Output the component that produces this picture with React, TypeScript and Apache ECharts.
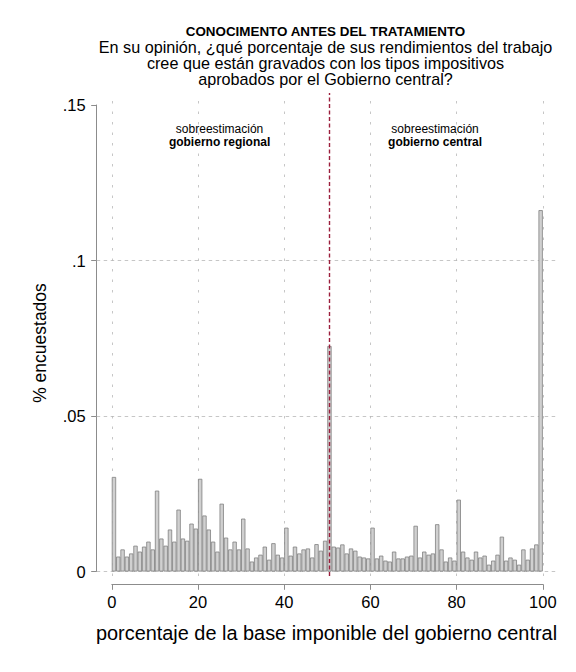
import React, { useEffect, useRef } from "react";
import * as echarts from "echarts";

// Histogram: share of respondents per 1-point bin [i, i+1), i = 0..99
const shares = [
  0.0304, 0.0048, 0.0071, 0.0048, 0.0058, 0.0083, 0.0064, 0.008, 0.0096, 0.0071,
  0.026, 0.0106, 0.0083, 0.0135, 0.0096, 0.0199, 0.0106, 0.0099, 0.0154, 0.0138,
  0.0298, 0.018, 0.0135, 0.0096, 0.0064, 0.0218, 0.0109, 0.0071, 0.0096, 0.0071,
  0.017, 0.0074, 0.0032, 0.0045, 0.0054, 0.008, 0.0038, 0.0091, 0.0054, 0.0045,
  0.0141, 0.0051, 0.008, 0.0058, 0.0071, 0.0074, 0.0045, 0.0088, 0.0067, 0.0099,
  0.0725, 0.008, 0.0077, 0.0087, 0.0058, 0.0074, 0.0067, 0.0048, 0.0045, 0.0042,
  0.0141, 0.0042, 0.0051, 0.0035, 0.0032, 0.0064, 0.0042, 0.0042, 0.0048, 0.0051,
  0.0147, 0.0045, 0.0064, 0.0054, 0.0058, 0.0152, 0.0071, 0.0032, 0.0045, 0.0035,
  0.0231, 0.0064, 0.0045, 0.0038, 0.0064, 0.0045, 0.0051, 0.0022, 0.0035, 0.0054,
  0.0112, 0.0035, 0.0045, 0.0038, 0.0022, 0.0071, 0.0038, 0.0074, 0.0087, 0.1162,
];
const binWidth = 1;
const xTicks = [0, 20, 40, 60, 80, 100];
const yTicks = [0, 0.05, 0.1, 0.15];
const yTickLabels = ["0", ".05", ".1", ".15"];
const hGridValues = [0, 0.05, 0.1];
const refLineX = 50.5;

const titleText = "CONOCIMENTO ANTES DEL TRATAMIENTO";
const subtitleLines = [
  "En su opinión, ¿qué porcentaje de sus rendimientos del trabajo",
  "cree que están gravados con los tipos impositivos",
  "aprobados por el Gobierno central?",
];
const xTitle = "porcentaje de la base imponible del gobierno central";
const yTitle = "% encuestados";
const annotations = [
  { x: 25, y: 0.1423, line1: "sobreestimación", line2: "gobierno regional" },
  { x: 75, y: 0.1423, line1: "sobreestimación", line2: "gobierno central" },
];

// layout (pixels)
const W = 576;
const H = 672;
const DATA_LEFT = 111.8;
const DATA_RIGHT = 542.8;
const DATA_TOP = 105;
const DATA_BOTTOM = 571.5;
const PLOT_LEFT = 96.7;
const PLOT_RIGHT = 558;
const PLOT_TOP = 93;
const PLOT_BOTTOM = 576;
const FONT = "'Liberation Sans', Arial, Helvetica, sans-serif";

export default function App() {
  const ref = useRef<HTMLDivElement>(null);

  useEffect(() => {
    if (!ref.current) return;
    const chart = echarts.init(ref.current, null, { renderer: "svg" });

    const xMinT = xTicks[0];
    const xMaxT = xTicks[xTicks.length - 1];
    const yMinT = yTicks[0];
    const yMaxT = yTicks[yTicks.length - 1];
    const pxX = (DATA_RIGHT - DATA_LEFT) / (xMaxT - xMinT);
    const pxY = (DATA_BOTTOM - DATA_TOP) / (yMaxT - yMinT);
    const toPx = (x: number, y: number) => [
      DATA_LEFT + (x - xMinT) * pxX,
      DATA_BOTTOM - (y - yMinT) * pxY,
    ];

    const gridColor = "#b8b8b8";
    const axisColor = "#8c8c8c";

    const gridLines: any[] = [
      ...xTicks.map((v) => ({
        xAxis: v,
        lineStyle: { color: gridColor, width: 0.8, type: [2.5, 8] },
      })),
      ...hGridValues.map((v) => ({
        yAxis: v,
        lineStyle: { color: gridColor, width: 0.8, type: [3.5, 3.5] },
      })),
    ];

    const graphic: any[] = [
      {
        type: "text",
        x: 325.5,
        y: 31.3,
        style: {
          text: titleText,
          fontFamily: FONT,
          fontWeight: "bold",
          fontSize: 13.4,
          lineHeight: 13.4,
          fill: "#000",
          align: "center",
          verticalAlign: "middle",
        },
      },
      ...subtitleLines.map((t, i) => ({
        type: "text",
        x: 325.5,
        y: 46.8 + i * 16.3,
        style: {
          text: t,
          fontFamily: FONT,
          fontSize: 16.2,
          lineHeight: 16.2,
          fill: "#000",
          align: "center",
          verticalAlign: "middle",
        },
      })),
      {
        type: "text",
        x: 326.5,
        y: 633,
        style: {
          text: xTitle,
          fontFamily: FONT,
          fontSize: 19.9,
          fill: "#000",
          align: "center",
          verticalAlign: "middle",
        },
      },
      {
        type: "text",
        x: 40,
        y: 343,
        rotation: Math.PI / 2,
        style: {
          text: yTitle,
          fontFamily: FONT,
          fontSize: 17.5,
          fill: "#000",
          align: "center",
          verticalAlign: "middle",
        },
      },
    ];
    annotations.forEach((a) => {
      const [px, py] = toPx(a.x, a.y);
      graphic.push({
        type: "text",
        x: px,
        y: py,
        style: {
          text: a.line1,
          fontFamily: FONT,
          fontSize: 12,
          lineHeight: 12,
          fill: "#000",
          align: "center",
          verticalAlign: "middle",
        },
      });
      graphic.push({
        type: "text",
        x: px,
        y: py + 12.8,
        style: {
          text: a.line2,
          fontFamily: FONT,
          fontSize: 12,
          lineHeight: 12,
          fontWeight: "bold",
          fill: "#000",
          align: "center",
          verticalAlign: "middle",
        },
      });
    });

    const option: any = {
      animation: false,
      backgroundColor: "#ffffff",
      textStyle: { fontFamily: FONT },
      grid: [
        {
          left: PLOT_LEFT,
          top: PLOT_TOP,
          width: PLOT_RIGHT - PLOT_LEFT,
          height: PLOT_BOTTOM - PLOT_TOP,
          containLabel: false,
          outerBoundsMode: "none",
        },
        {
          left: DATA_LEFT,
          top: DATA_TOP,
          width: DATA_RIGHT - DATA_LEFT,
          height: DATA_BOTTOM - DATA_TOP,
          containLabel: false,
          outerBoundsMode: "none",
        },
      ],
      xAxis: [
        {
          gridIndex: 0,
          type: "value",
          show: false,
          min: xMinT - (DATA_LEFT - PLOT_LEFT) / pxX,
          max: xMaxT + (PLOT_RIGHT - DATA_RIGHT) / pxX,
        },
        {
          gridIndex: 1,
          type: "value",
          position: "bottom",
          min: xMinT,
          max: xMaxT,
          interval: 20,
          offset: 12.8,
          axisLine: { show: true, onZero: false, lineStyle: { color: axisColor, width: 1 } },
          axisTick: { show: true, length: 5.5, lineStyle: { color: axisColor, width: 1 } },
          axisLabel: { fontSize: 16.5, color: "#000", margin: 9, fontFamily: FONT },
          splitLine: { show: false },
        },
      ],
      yAxis: [
        {
          gridIndex: 0,
          type: "value",
          show: false,
          min: yMinT - (PLOT_BOTTOM - DATA_BOTTOM) / pxY,
          max: yMaxT + (DATA_TOP - PLOT_TOP) / pxY,
        },
        {
          gridIndex: 1,
          type: "value",
          position: "left",
          min: yMinT,
          max: yMaxT,
          interval: 0.05,
          offset: DATA_LEFT - PLOT_LEFT,
          axisLine: { show: true, onZero: false, lineStyle: { color: axisColor, width: 1 } },
          axisTick: { show: true, length: 5.5, lineStyle: { color: axisColor, width: 1 } },
          axisLabel: {
            fontSize: 16.5,
            color: "#000",
            margin: 11,
            fontFamily: FONT,
            formatter: (v: number) => {
              let best = 0;
              yTicks.forEach((t, i) => {
                if (Math.abs(t - v) < Math.abs(yTicks[best] - v)) best = i;
              });
              return yTickLabels[best];
            },
          },
          splitLine: { show: false },
        },
      ],
      series: [
        {
          type: "line",
          xAxisIndex: 0,
          yAxisIndex: 0,
          data: [],
          silent: true,
          markLine: {
            silent: true,
            symbol: "none",
            z: 1,
            animation: false,
            label: { show: false },
            emphasis: { disabled: true },
            data: gridLines,
          },
        },
        {
          type: "bar",
          xAxisIndex: 1,
          yAxisIndex: 1,
          z: 2,
          silent: true,
          barWidth: pxX * binWidth,
          data: shares.map((v, i) => [xMinT + (i + 0.5) * binWidth, v]),
          itemStyle: { color: "#d0d0d0", borderColor: "#808080", borderWidth: 0.8 },
        },
        {
          type: "line",
          xAxisIndex: 0,
          yAxisIndex: 0,
          data: [],
          silent: true,
          markLine: {
            silent: true,
            symbol: "none",
            z: 6,
            animation: false,
            label: { show: false },
            emphasis: { disabled: true },
            lineStyle: { color: "#9b1e3c", width: 1.4, type: [4, 2.5] },
            data: [{ xAxis: refLineX }],
          },
        },
      ],
      graphic,
    };

    chart.setOption(option);
    return () => chart.dispose();
  }, []);

  return (
    <div
      ref={ref}
      style={{ position: "fixed", left: 0, top: 0, width: W, height: H, background: "#fff" }}
    />
  );
}
